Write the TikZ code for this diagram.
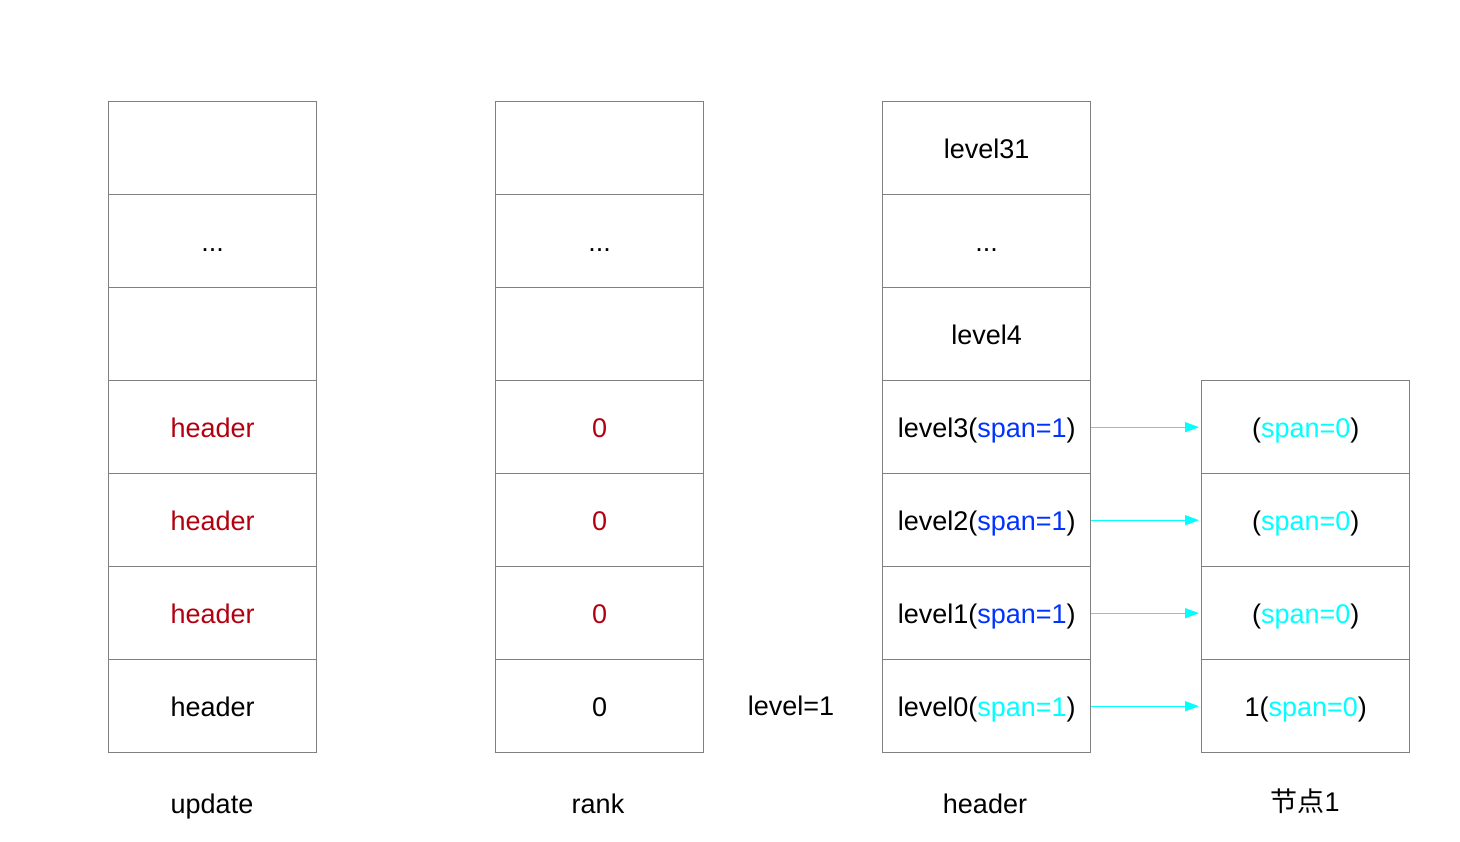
\documentclass[tikz,border=0pt]{standalone}
\usepackage{fontspec}
\setmainfont{Liberation Sans}
\newfontfamily\cjk{Noto Sans CJK SC}
\usetikzlibrary{arrows.meta}
\definecolor{boxgray}{HTML}{808080}
\definecolor{hred}{HTML}{B20010}
\definecolor{sblue}{HTML}{0033FF}
\definecolor{scyan}{HTML}{00FFFF}
\tikzset{
  cell/.style={draw=boxgray, line width=1.4pt, minimum width=208pt, minimum height=93pt, inner sep=0pt, anchor=north west, font=\fontsize{27}{32}\selectfont, text height=24pt, text depth=3pt},
  lbl/.style={font=\fontsize{27}{32}\selectfont, inner sep=0pt, text height=24pt, text depth=3pt},
  link/.style={draw=scyan, line width=1.3pt, -{Triangle[length=14pt,width=10pt]}, shorten >=2pt}
}
\newcommand{\myred}[1]{\textcolor{hred}{#1}}
\newcommand{\myblue}[1]{\textcolor{sblue}{#1}}
\newcommand{\mycyan}[1]{\textcolor{scyan}{#1}}
\begin{document}
\begin{tikzpicture}[x=1pt,y=-1pt]
\useasboundingbox (0,0) rectangle (1460,842);
% update column
\node[cell] (u0) at (108,101) {};
\node[cell] (u1) at (108,194) {...};
\node[cell] (u2) at (108,287) {};
\node[cell] (u3) at (108,380) {\myred{header}};
\node[cell] (u4) at (108,473) {\myred{header}};
\node[cell] (u5) at (108,566) {\myred{header}};
\node[cell] (u6) at (108,659) {header};
% rank column
\node[cell] (r0) at (495,101) {};
\node[cell] (r1) at (495,194) {...};
\node[cell] (r2) at (495,287) {};
\node[cell] (r3) at (495,380) {\myred{0}};
\node[cell] (r4) at (495,473) {\myred{0}};
\node[cell] (r5) at (495,566) {\myred{0}};
\node[cell] (r6) at (495,659) {0};
% header column
\node[cell] (h0) at (882,101) {level31};
\node[cell] (h1) at (882,194) {...};
\node[cell] (h2) at (882,287) {level4};
\node[cell] (h3) at (882,380) {level3(\myblue{span=1})};
\node[cell] (h4) at (882,473) {level2(\myblue{span=1})};
\node[cell] (h5) at (882,566) {level1(\myblue{span=1})};
\node[cell] (h6) at (882,659) {level0(\mycyan{span=1})};
% node 1 column
\node[cell] (n3) at (1201,380) {(\mycyan{span=0})};
\node[cell] (n4) at (1201,473) {(\mycyan{span=0})};
\node[cell] (n5) at (1201,566) {(\mycyan{span=0})};
\node[cell] (n6) at (1201,659) {1(\mycyan{span=0})};
% links
\draw[link] (h3.east) -- (n3.west);
\draw[link] (h4.east) -- (n4.west);
\draw[link] (h5.east) -- (n5.west);
\draw[link] (h6.east) -- (n6.west);
% labels
\node[lbl] (lv) at (791,705) {level=1};
\node[lbl] (lu) at (212,803) {update};
\node[lbl] (lr) at (598,803) {rank};
\node[lbl] (lh) at (985,803) {header};
\node[lbl] (ln) at (1305,801) {{\cjk 节点}1};
\end{tikzpicture}
\end{document}
